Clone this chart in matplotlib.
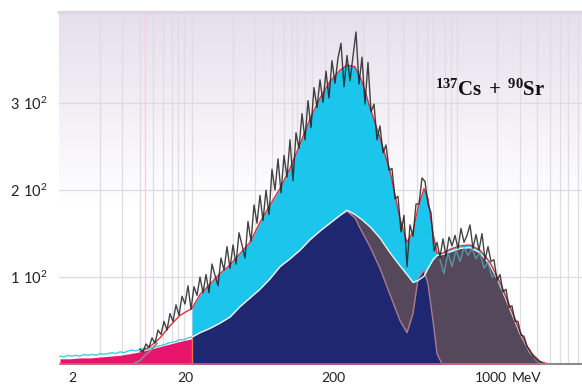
import numpy as np
import matplotlib.pyplot as plt

plt.rcParams.update({
    'font.family': 'Lato',
    'font.size': 10.5,
    'mathtext.fontset': 'custom',
    'mathtext.sf': 'Lato',
    'mathtext.rm': 'Liberation Serif',
    'mathtext.bf': 'Liberation Serif:bold',
})

# energy calibration marks on the channel axis
tick_chan = [24, 250, 546, 862, 934]
tick_text = ['2', '20', '200', '1000', 'MeV']
grid_chan = [80, 124, 160, 186, 206, 224, 236, 248, 264, 346, 390, 424, 448, 464,
             474, 490, 504, 530, 606, 656, 686, 714, 734, 746, 770, 782, 794, 874,
             920, 954, 980, 1000, 1016, 1036]
marker_chan = 170

# measured spectrum
data_chan = np.arange(160, 971, 6)
data_counts = [17, 14, 23, 19, 30, 24, 39, 34, 49, 39, 58, 49, 68, 56, 78, 69, 90, 63,
               89, 79, 100, 82, 103, 82, 115, 102, 90, 122, 108, 135, 110, 137, 115,
               151, 137, 122, 164, 141, 183, 162, 194, 165, 200, 172, 224, 200, 236,
               197, 240, 215, 258, 211, 266, 248, 288, 258, 303, 272, 318, 295, 327,
               301, 337, 306, 349, 323, 352, 369, 319, 355, 326, 354, 382, 322, 353,
               299, 347, 290, 299, 258, 274, 243, 252, 223, 225, 190, 193, 152, 171,
               112, 160, 147, 184, 184, 214, 210, 184, 174, 130, 140, 123, 144, 124,
               146, 136, 148, 133, 156, 140, 148, 160, 133, 149, 131, 150, 120, 135,
               118, 120, 96, 103, 83, 86, 65, 67, 49, 49, 33, 32, 20, 16, 9, 6, 3, 1, 0]

# fitted components
comp_chan = [264, 280, 300, 320, 340, 360, 380, 400, 420, 440, 460, 480, 500, 520,
             540, 560, 574, 590, 604, 620, 640, 660, 680, 694, 706, 716, 728, 736,
             746, 754, 764, 780, 800, 820, 840, 860, 880, 900, 920, 940, 960, 976]
fit_total = [64, 80, 92, 104, 114, 127, 140, 163, 183, 202, 225, 253, 282, 306, 325,
             338, 344, 342, 325, 295, 260, 222, 167, 140, 152, 180, 202, 190, 150, 128,
             127, 132, 136, 137, 131, 117, 94, 66, 37, 14, 3, 0]
fit_beta = [31, 36, 41, 47, 54, 66, 76, 86, 98, 112, 121, 131, 143, 153, 162, 171,
            177, 172, 166, 158, 145, 128, 113, 103, 94, 96, 101, 110, 120, 125, 126,
            129, 133, 134, 128, 114, 91, 63, 35, 13, 2, 0]
fit_sr = [31, 36, 41, 47, 54, 66, 76, 86, 98, 112, 121, 131, 143, 153, 162, 171, 176,
          168, 152, 135, 110, 80, 50, 36, 58, 98, 108, 92, 50, 12, 0, 0, 0, 0, 0, 0,
          0, 0, 0, 0, 0, 0]
fit_low_chan = [160, 180, 200, 220, 240]
fit_low = [14, 20, 30, 44, 56]

# low energy background
bg_chan = [0, 20, 40, 60, 80, 100, 120, 140, 160, 180, 200, 220, 240, 264]
bg_counts = [6, 6, 7, 7, 8, 9, 10, 12, 14, 17, 20, 23, 26, 29]
bgfit_chan = np.arange(0, 265, 8)
bgfit_counts = [9, 8, 10, 9, 10, 9, 11, 10, 11, 10, 12, 11, 12, 13, 12, 14, 13, 15,
                16, 15, 17, 18, 17, 19, 20, 21, 22, 24, 25, 26, 28, 28, 30, 31]
onset_chan = [146, 160, 170, 184, 194]
onset_counts = [0, 4, 10, 17, 24]
cs_chan = np.arange(760, 961, 8)
cs_counts = [120, 104, 128, 112, 131, 118, 134, 125, 133, 121, 128, 110, 117, 100,
             104, 88, 82, 70, 60, 50, 38, 28, 18, 10, 4, 1]

fig = plt.figure(figsize=(5.82, 3.85), dpi=100)
ax = fig.add_axes([59 / 582, 21 / 385, 523 / 582, 352 / 385])
ax.set_xlim(-2, 1044)
ax.set_ylim(0, 405)

# lavender to white backdrop
frac = np.linspace(1, 0, 256)[:, None]
w = np.clip((frac - 0.45) / 0.55, 0, 1)
top = np.array([0.898, 0.875, 0.925])
grad = (1 - w)[..., None] * np.ones(3) + w[..., None] * top
ax.imshow(grad, extent=[0, 1, 0, 1], transform=ax.transAxes, aspect='auto', zorder=0)

for c in grid_chan:
    ax.axvline(c, color='#e0dbe4', lw=0.9, zorder=1)
ax.axvline(marker_chan, color='#f3d0da', lw=0.9, zorder=1)
for v in (100, 200, 300):
    ax.axhline(v, color='#e0d9e2', lw=0.9, zorder=1)

# filled components
ax.fill_between(bg_chan, 0, bg_counts, color='#e8146b', lw=0, zorder=2)
ax.fill_between(comp_chan, 0, fit_beta, color='#55485b', lw=0, zorder=2)
ax.fill_between(comp_chan, 0, fit_sr, color='#1e276f', lw=0, zorder=3)
ax.fill_between(comp_chan, fit_beta, fit_total, color='#1cc5ec', lw=0, zorder=2)
ax.vlines(comp_chan[0], 0, fit_sr[0], color='#e8704e', lw=1, zorder=4)

ax.plot(bgfit_chan, bgfit_counts, color='#3cd0e0', lw=1, zorder=4)
ax.plot(onset_chan, onset_counts, color='#8a8a8a', lw=1.2, zorder=4)
ax.plot(comp_chan, fit_sr, color='#b07a90', lw=1, zorder=4)
ax.plot(comp_chan, fit_beta, color='#e4f6f8', lw=1, zorder=4)
ax.plot(cs_chan, cs_counts, color='#5aa8b8', lw=1, alpha=0.8, zorder=4)
ax.plot(fit_low_chan + comp_chan, fit_low + fit_total, color='#e03040', lw=1, zorder=5)
ax.plot(data_chan, data_counts, color='#222222', lw=1, alpha=0.85, zorder=6)

# baseline
ax.plot([0, 960], [0, 0], color='#c8607a', lw=1.2, zorder=7, clip_on=False)
ax.plot([960, 1044], [0, 0], color='#8c8c8c', lw=1.5, zorder=7, clip_on=False)

ax.text(860, 309, r'$\mathbf{^{137}Cs\,+\,^{90}Sr}$', fontsize=15,
        ha='center', va='baseline', color='#111111', zorder=8)

ax.set_xticks(tick_chan)
ax.set_xticklabels(tick_text)
ax.set_yticks([100, 200, 300])
ax.set_yticklabels([r'$\mathsf{1\ 10^{2}}$', r'$\mathsf{2\ 10^{2}}$', r'$\mathsf{3\ 10^{2}}$'])
ax.tick_params(axis='x', length=0, pad=6, labelsize=10, colors='#222222')
ax.tick_params(axis='y', length=0, pad=8, labelsize=10.5, colors='#222222')

for s in ('left', 'right', 'bottom'):
    ax.spines[s].set_visible(False)
ax.spines['top'].set_color('#dcd5e2')
ax.spines['top'].set_linewidth(2.5)

fig.savefig('out.png', dpi=100, facecolor='white')
